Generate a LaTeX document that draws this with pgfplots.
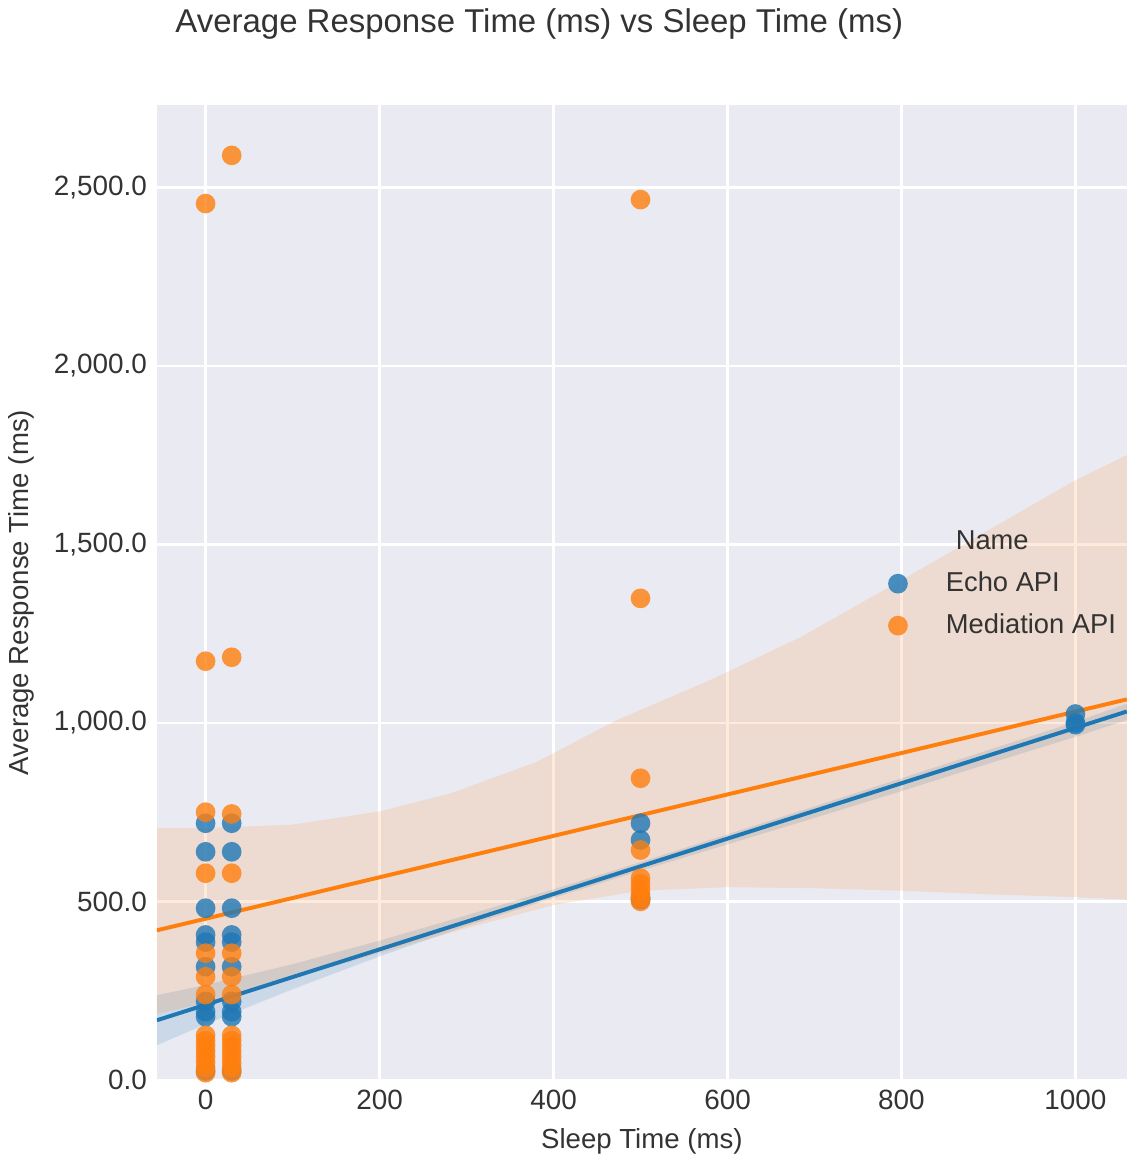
\documentclass[border=0pt]{standalone}
\usepackage{pgfplots}
\pgfplotsset{compat=1.18}
\usepackage{fontspec}
\setmainfont{Liberation Sans}
\definecolor{sbblue}{HTML}{1F77B4}
\definecolor{sborange}{HTML}{FF7F0E}
\definecolor{sbbg}{HTML}{EAEAF2}
\definecolor{sbtext}{HTML}{333333}
\pgfplotsset{dotlegend/.style={legend image code/.code={\path (0cm,0cm) (1cm,0cm); \draw[mark repeat=2,mark phase=2,##1] plot coordinates {(0cm,0cm) (0.5cm,0cm) (1cm,0cm)};}}}
\begin{document}
\begin{tikzpicture}
\path[use as bounding box] (-55.7pt,-28.8pt) rectangle (344.35pt,383.4pt);
\begin{axis}[
  width=344.35pt, height=346.1pt, scale only axis,
  xmin=-56, xmax=1059, ymin=0, ymax=2731,
  axis background/.style={fill=sbbg},
  axis line style={draw=none},
  major tick length=0pt,
  grid=major, major grid style={white, line width=0.8pt},
  xtick={0,200,...,1000}, ytick={0,500,...,2500},
  /pgf/number format/assume math mode=true,
  tick label style={font=\fontsize{9.9}{12}\selectfont, text=sbtext},
  xticklabel style={/pgf/number format/1000 sep={}},
  yticklabel style={/pgf/number format/.cd, fixed, fixed zerofill, precision=1, 1000 sep={,}},
  xlabel={Sleep Time (ms)}, ylabel={Average Response Time (ms)},
  label style={font=\fontsize{9.8}{12}\selectfont, text=sbtext},
  legend style={at={(0.7216,0.509)}, anchor=west, draw=none, fill=none, inner sep=0pt,
    font=\fontsize{9.7}{12}\selectfont, text=sbtext,
    nodes={inner sep=2.6pt, text height=7.5pt, text depth=2.2pt}},
  legend cell align=left,
]
% confidence bands
\addplot[fill=sbblue, fill opacity=0.15, draw=none, forget plot] coordinates {
 (-56,237) (0,266) (100,324) (200,390) (300,461) (400,534) (500,610) (600,688) (700,766) (800,845) (900,924) (1000,1003) (1059,1054)
 (1059,1008) (1000,961) (900,886) (800,809) (700,734) (600,660) (500,586) (400,510) (300,431) (200,346) (100,254) (0,156) (-56,97)
} -- cycle;
\addplot[fill=sborange, fill opacity=0.15, draw=none, forget plot] coordinates {
 (-56,705) (0,705) (100,715) (200,752) (282,803) (380,890) (473,1008) (580,1120) (684,1240) (800,1400) (900,1540) (1000,1680) (1059,1750)
 (1059,505) (1000,512) (900,520) (800,530) (700,537) (600,540) (500,530) (400,490) (300,425) (200,355) (100,285) (0,215) (-56,185)
} -- cycle;
\addlegendimage{empty legend}
\addlegendentry{\hspace{3.5pt}Name}
% scatter
\addplot[only marks, mark=*, sbblue, mark size=3.5pt, mark options={draw opacity=0, fill=sbblue, fill opacity=0.8}, dotlegend]
 table {
x y
0 25
0 177
0 191
0 220
0 317
0 386
0 406
0 481
0 639
0 719
30 25
30 177
30 191
30 220
30 317
30 386
30 406
30 481
30 639
30 719
500 505
500 510
500 672
500 719
1000 995
1000 1000
1000 1025
};
\addlegendentry{Echo API}
\addplot[only marks, mark=*, sborange, mark size=3.5pt, mark options={draw opacity=0, fill=sborange, fill opacity=0.8}, dotlegend]
 table {
x y
0 20
0 35
0 50
0 65
0 80
0 95
0 110
0 125
0 239
0 289
0 355
0 579
0 750
0 1173
0 2455
30 20
30 35
30 50
30 65
30 80
30 95
30 110
30 125
30 239
30 289
30 355
30 579
30 745
30 1184
30 2590
500 500
500 510
500 520
500 535
500 550
500 565
500 644
500 845
500 1349
500 2466
};
\addlegendentry{Mediation API}
% regression lines
\addplot[sbblue, line width=1.4pt, forget plot] coordinates {(-56,167) (1059,1032)};
\addplot[sborange, line width=1.4pt, forget plot] coordinates {(-56,419) (1059,1066)};
\end{axis}
\node[anchor=base west, inner sep=0pt, font=\fontsize{11.7}{14}\selectfont, text=sbtext] at (6.4pt,371.7pt) {Average Response Time (ms) vs Sleep Time (ms)};
\end{tikzpicture}
\end{document}
